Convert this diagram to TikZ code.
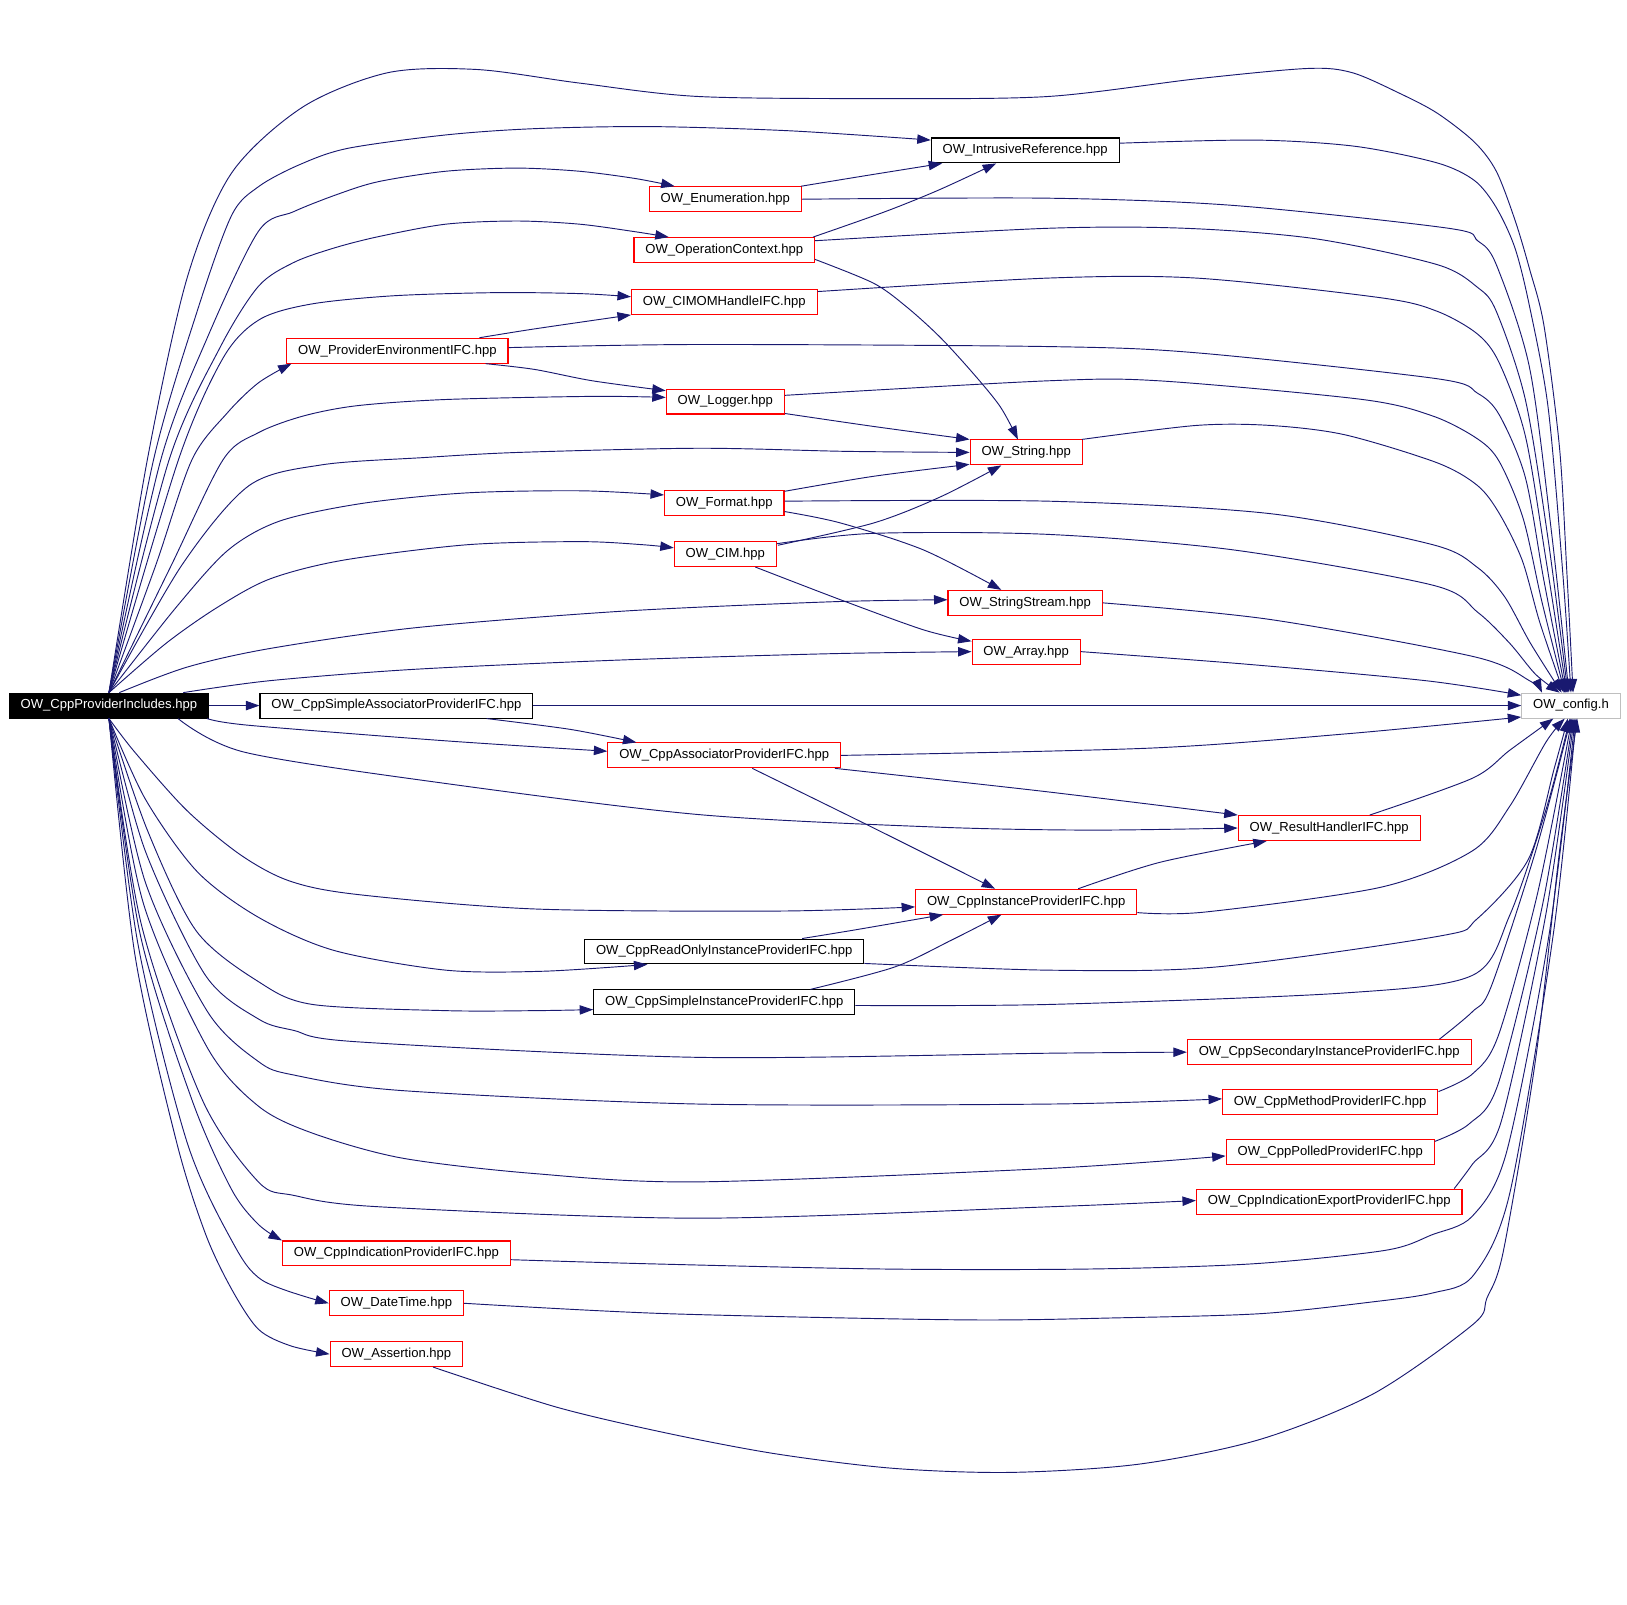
\documentclass[tikz,border=0pt]{standalone}
\usepackage{fontspec}
\setmainfont{Liberation Sans}
\usetikzlibrary{arrows.meta}
\usetikzlibrary{calc}
\definecolor{edgeblue}{HTML}{191970}
\definecolor{cfggray}{HTML}{BFBFBF}

\begin{document}
\begin{tikzpicture}[x=1pt, y=-1pt,
    file/.style={draw=red, line width=1pt, inner xsep=11pt, inner ysep=0pt, minimum height=24pt, font=\fontsize{12.6}{15}\selectfont},
    hdr/.style={file, draw=black},
    dep/.style={draw=edgeblue, line width=0.9pt, -{Triangle[length=13pt,width=9pt]}}]

    % Cadre
    \useasboundingbox (0,0) rectangle (1568,1546);

    % Fichier principal et OW_config.h
    \node[hdr, fill=black, text=white] (main) at (105,680) {OW\_CppProviderIncludes.hpp};
    \node[file, draw=cfggray] (cfg) at (1514,680) {OW\_config.h};

    % En-tetes du haut
    \node[hdr] (ir) at (988,145) {OW\_IntrusiveReference.hpp};
    \node[file] (enum) at (699,192) {OW\_Enumeration.hpp};
    \node[file] (opctx) at (698,241) {OW\_OperationContext.hpp};
    \node[file] (cimom) at (698,291) {OW\_CIMOMHandleIFC.hpp};
    \node[file] (provenv) at (383,338) {OW\_ProviderEnvironmentIFC.hpp};
    \node[file] (logger) at (699,387) {OW\_Logger.hpp};
    \node[file] (string) at (989,436) {OW\_String.hpp};
    \node[file] (format) at (698,485) {OW\_Format.hpp};
    \node[file] (cim) at (699,534) {OW\_CIM.hpp};
    \node[file] (sstream) at (988,581) {OW\_StringStream.hpp};
    \node[file] (array) at (989,628) {OW\_Array.hpp};
    \node[hdr] (sassoc) at (382,680) {OW\_CppSimpleAssociatorProviderIFC.hpp};

    % En-tetes du bas
    \node[file] (assoc) at (698,728) {OW\_CppAssociatorProviderIFC.hpp};
    \node[file] (result) at (1281,798) {OW\_ResultHandlerIFC.hpp};
    \node[file] (inst) at (989,869) {OW\_CppInstanceProviderIFC.hpp};
    \node[hdr] (roinst) at (698,917) {OW\_CppReadOnlyInstanceProviderIFC.hpp};
    \node[hdr] (sinst) at (698,966) {OW\_CppSimpleInstanceProviderIFC.hpp};
    \node[file] (secinst) at (1281,1014) {OW\_CppSecondaryInstanceProviderIFC.hpp};
    \node[file] (method) at (1282,1062) {OW\_CppMethodProviderIFC.hpp};
    \node[file] (polled) at (1282,1110) {OW\_CppPolledProviderIFC.hpp};
    \node[file] (indexp) at (1281,1158) {OW\_CppIndicationExportProviderIFC.hpp};
    \node[file] (ind) at (382,1208) {OW\_CppIndicationProviderIFC.hpp};
    \node[file] (datetime) at (382,1256) {OW\_DateTime.hpp};
    \node[file] (assert) at (382,1305) {OW\_Assertion.hpp};

    % main -> en-tetes du haut
    \draw[dep] plot[smooth] coordinates {(main.north) (142,443) (180,269) (223,167) (292,103) (374,70) (460,67) (558,80) (673,93) (850,95) (1010,93) (1153,76) (1260,66) (1303,70) (1349,90) (1385,109) (1421,137) (1442,165) (1460,212) (1474,259) (1488,314) (1503,432) (1510,551) ($(cfg.north)+(2,0)$)};
    \draw[dep] plot[smooth] coordinates {(main.north) (148,443) (190,300) (223,208) (249,180) (288,159) (335,143) (430,130) (515,124) (627,122) (760,126) ($(ir.west)+(0,-10)$)};
    \draw[dep] plot[smooth] coordinates {(main.north) (155,443) (200,325) (249,223) (283,204) (326,187) (365,175) (430,165) (498,162) (558,165) (612,172) ($(enum.north west)+(25,0)$)};
    \draw[dep] plot[smooth] coordinates {(main.north) (163,443) (212,335) (249,276) (283,253) (322,239) (365,228) (430,216) (498,213) (558,216) (610,223) ($(opctx.north west)+(34,0)$)};
    \draw[dep] plot[smooth] coordinates {(main.north) (172,443) (215,345) (250,308) (300,293) (380,285) (480,282) (560,283) ($(cimom.west)+(0,-5)$)};
    \draw[dep] plot[smooth] coordinates {(main.north) (150,545) (185,443) (219,398) (249,369) ($(provenv.south west)+(5,0)$)};
    \draw[dep] plot[smooth] coordinates {(main.north) (165,545) (215,443) (249,417) (292,401) (344,391) (430,385) (571,382) ($(logger.west)+(0,-4)$)};
    \draw[dep] plot[smooth] coordinates {(main.north) (175,545) (240,468) (310,448) (408,441) (500,436) (673,432) (816,435) (string.west)};
    \draw[dep] plot[smooth] coordinates {(main.north) (170,585) (220,530) (270,502) (350,485) (450,475) (560,473) ($(format.west)+(0,-8)$)};
    \draw[dep] plot[smooth] coordinates {(main.north) (160,620) (210,585) (260,558) (330,540) (450,525) (560,522) (620,525) ($(cim.west)+(0,-6)$)};
    \draw[dep] plot[smooth] coordinates {($(main.north)+(10,0)$) (180,643) (260,625) (400,605) (600,589) (800,580) ($(sstream.west)+(0,-3)$)};
    \draw[dep] plot[smooth] coordinates {($(main.north east)+(-25,0)$) (260,656) (400,645) (600,636) (800,630) (array.west)};
    \draw[dep] (main) -- (sassoc);

    % main -> en-tetes du bas
    \draw[dep] plot[smooth] coordinates {($(main.south east)+(-2,0)$) (240,699) (430,714) ($(assoc.west)+(0,-4)$)};
    \draw[dep] plot[smooth] coordinates {($(main.south east)+(-30,0)$) (236,725) (429,755) (673,785) (900,797) (1050,800) (result.west)};
    \draw[dep] plot[smooth] coordinates {(main.south) (130,725) (180,781) (232,824) (279,849) (344,862) (515,876) (751,878) ($(inst.west)+(0,5)$)};
    \draw[dep] plot[smooth] coordinates {(main.south) (140,770) (190,840) (249,884) (322,916) (430,935) (524,936) ($(roinst.south west)+(61,0)$)};
    \draw[dep] plot[smooth] coordinates {(main.south) (142,800) (189,897) (249,946) (301,968) (430,974) (515,974) ($(sinst.west)+(0,7)$)};
    \draw[dep] plot[smooth] coordinates {(main.south) (140,820) (198,940) (249,982) (283,993) (344,1004) (673,1019) (1012,1015) (secinst.west)};
    \draw[dep] plot[smooth] coordinates {(main.south) (140,850) (200,975) (249,1023) (283,1036) (387,1051) (673,1064) (1012,1064) ($(method.west)+(0,-3)$)};
    \draw[dep] plot[smooth] coordinates {(main.south) (138,870) (200,1010) (249,1066) (301,1092) (387,1116) (515,1131) (673,1139) (1012,1126) ($(polled.west)+(0,4)$)};
    \draw[dep] plot[smooth] coordinates {(main.south) (136,890) (195,1060) (249,1139) (283,1152) (365,1163) (673,1174) (1012,1163) ($(indexp.west)+(0,-1)$)};
    \draw[dep] plot[smooth] coordinates {(main.south) (135,900) (185,1060) (223,1146) (249,1180) (ind.north west)};
    \draw[dep] plot[smooth] coordinates {(main.south) (133,910) (180,1100) (223,1195) (253,1234) (datetime.west)};
    \draw[dep] plot[smooth] coordinates {(main.south) (130,920) (170,1100) (198,1189) (223,1242) (249,1281) (280,1297) (assert.west)};

    % Liens entre en-tetes
    \draw[dep] plot[smooth] coordinates {($(enum.north east)+(-1,0)$) (836,169) ($(ir.south west)+(11,0)$)};
    \draw[dep] plot[smooth] coordinates {($(opctx.north east)+(-2,0)$) (853,204) (905,183) ($(ir.south west)+(63,0)$)};
    \draw[dep] plot[smooth] coordinates {($(opctx.east)+(0,9)$) (842,273) (874,296) (906,325) (938,360) (964,392) ($(string.north)+(-8,0)$)};
    \draw[dep] plot[smooth] coordinates {($(provenv.north east)+(-28,0)$) (515,317) (cimom.south west)};
    \draw[dep] plot[smooth] coordinates {($(provenv.south east)+(-22,0)$) (515,356) (571,367) ($(logger.north west)+(0,2)$)};
    \draw[dep] plot[smooth] coordinates {($(logger.south east)+(0,-1)$) (842,411) (string.north west)};
    \draw[dep] plot[smooth] coordinates {($(format.north east)+(0,1)$) (842,459) ($(string.south west)+(0,-1)$)};
    \draw[dep] plot[smooth] coordinates {($(format.east)+(0,8)$) (810,504) (890,530) ($(sstream.north)+(-23,0)$)};
    \draw[dep] plot[smooth] coordinates {($(cim.north east)+(1,4)$) (842,504) (906,479) ($(string.south)+(-24,0)$)};
    \draw[dep] plot[smooth] coordinates {($(cim.south)+(29,0)$) (810,578) (890,607) ($(array.west)+(0,-10)$)};
    \draw[dep] plot[smooth] coordinates {($(sassoc.south east)+(-45,0)$) (550,703) ($(assoc.north west)+(28,0)$)};
    \draw[dep] plot[smooth] coordinates {($(assoc.south east)+(-6,0)$) (1000,762) (result.north west)};
    \draw[dep] plot[smooth] coordinates {($(assoc.south)+(27,0)$) (840,797) ($(inst.north)+(-30,0)$)};
    \draw[dep] plot[smooth] coordinates {($(inst.north east)+(-57,0)$) (1118,831) ($(result.south west)+(28,0)$)};
    \draw[dep] plot[smooth] coordinates {($(roinst.north)+(75,0)$) (825,896) ($(inst.south west)+(27,0)$)};
    \draw[dep] plot[smooth] coordinates {($(sinst.north)+(83,0)$) (862,932) (917,906) ($(inst.south)+(-24,0)$)};

    % en-tetes du haut -> OW_config.h
    \draw[dep] plot[smooth] coordinates {($(ir.east)+(0,-7)$) (1210,135) (1306,141) (1385,157) (1421,174) (1442,200) (1460,239) (1474,295) (1492,393) (1506,551) (cfg.north)};
    \draw[dep] plot[smooth] coordinates {(enum.east) (1010,191) (1189,198) (1396,220) (1424,232) (1442,255) (1474,354) (1495,511) ($(cfg.north)+(-2,0)$)};
    \draw[dep] plot[smooth] coordinates {($(opctx.east)+(0,-9)$) (1010,220) (1142,220) (1267,230) (1385,255) (1424,277) (1442,300) (1470,385) (1492,520) ($(cfg.north)+(-3,0)$)};
    \draw[dep] plot[smooth] coordinates {($(cimom.east)+(0,-10)$) (1010,268) (1153,268) (1331,287) (1385,300) (1424,322) (1445,350) (1470,420) (1490,540) ($(cfg.north)+(-4,0)$)};
    \draw[dep] plot[smooth] coordinates {($(provenv.east)+(0,-3)$) (673,332) (1010,334) (1153,340) (1385,365) (1424,379) (1445,400) (1470,460) (1488,560) ($(cfg.north)+(-5,0)$)};
    \draw[dep] plot[smooth] coordinates {($(logger.east)+(0,-6)$) (1010,367) (1117,367) (1313,385) (1381,401) (1424,423) (1445,445) (1468,500) (1486,580) ($(cfg.north)+(-6,0)$)};
    \draw[dep] plot[smooth] coordinates {($(string.north east)+(-1,0)$) (1153,410) (1224,410) (1296,419) (1385,446) (1424,468) (1445,495) (1467,540) (1484,600) ($(cfg.north)+(-7,0)$)};
    \draw[dep] plot[smooth] coordinates {($(format.east)+(0,-2)$) (1010,483) (1224,495) (1381,525) (1424,547) (1450,575) (1475,620) ($(cfg.north)+(-9,0)$)};
    \draw[dep] plot[smooth] coordinates {($(cim.east)+(0,-10)$) (842,514) (1010,515) (1189,530) (1381,564) (1424,590) (1455,620) (1480,650) ($(cfg.north)+(-11,0)$)};
    \draw[dep] plot[smooth] coordinates {(sstream.east) (1224,597) (1421,633) (1474,656) ($(cfg.north west)+(20,0)$)};
    \draw[dep] plot[smooth] coordinates {(array.east) (1200,640) (1374,656) ($(cfg.west)+(0,-10)$)};
    \draw[dep] (sassoc) -- (cfg);

    % en-tetes du bas -> OW_config.h
    \draw[dep] plot[smooth] coordinates {(assoc.east) (1108,721) (1300,707) ($(cfg.west)+(0,11)$)};
    \draw[dep] plot[smooth] coordinates {($(result.north)+(39,0)$) (1419,750) (1455,723) ($(cfg.south)+(-17,0)$)};
    \draw[dep] plot[smooth] coordinates {($(inst.south east)+(0,-2)$) (1161,879) (1331,855) (1419,820) (1455,777) (1490,715) ($(cfg.south)+(-6,0)$)};
    \draw[dep] plot[smooth] coordinates {($(roinst.south east)+(0,-1)$) (1012,935) (1171,932) (1388,902) (1423,886) (1473,828) (1498,740) ($(cfg.south)+(-3,0)$)};
    \draw[dep] plot[smooth] coordinates {($(sinst.east)+(0,3)$) (1012,968) (1295,957) (1419,940) (1455,882) (1490,780) ($(cfg.south)+(-1,0)$)};
    \draw[dep] plot[smooth] coordinates {($(secinst.north east)+(-31,0)$) (1419,975) (1437,951) (1480,820) (cfg.south)};
    \draw[dep] plot[smooth] coordinates {($(method.east)+(0,-10)$) (1419,1035) (1444,998) (1482,860) ($(cfg.south)+(1,0)$)};
    \draw[dep] plot[smooth] coordinates {($(polled.east)+(0,-10)$) (1416,1083) (1444,1044) (1487,870) ($(cfg.south)+(2,0)$)};
    \draw[dep] plot[smooth] coordinates {($(indexp.north east)+(-8,0)$) (1419,1122) (1447,1080) (1490,880) ($(cfg.south)+(3,0)$)};
    \draw[dep] plot[smooth] coordinates {($(ind.east)+(0,6)$) (627,1218) (853,1223) (1049,1223) (1207,1218) (1335,1205) (1380,1190) (1419,1172) (1452,1110) (1493,900) ($(cfg.south)+(4,0)$)};
    \draw[dep] plot[smooth] coordinates {(datetime.east) (642,1266) (928,1272) (1079,1270) (1215,1266) (1320,1255) (1381,1246) (1420,1229) (1455,1150) (1497,900) ($(cfg.south)+(5,0)$)};
    \draw[dep] plot[smooth] coordinates {($(assert.south east)+(-29,0)$) (536,1356) (642,1381) (747,1401) (860,1415) (974,1419) (1098,1411) (1215,1387) (1324,1343) (1420,1276) (1433,1251) (1449,1205) (1480,1020) (1503,820) ($(cfg.south)+(6,0)$)};

\end{tikzpicture}
\end{document}
